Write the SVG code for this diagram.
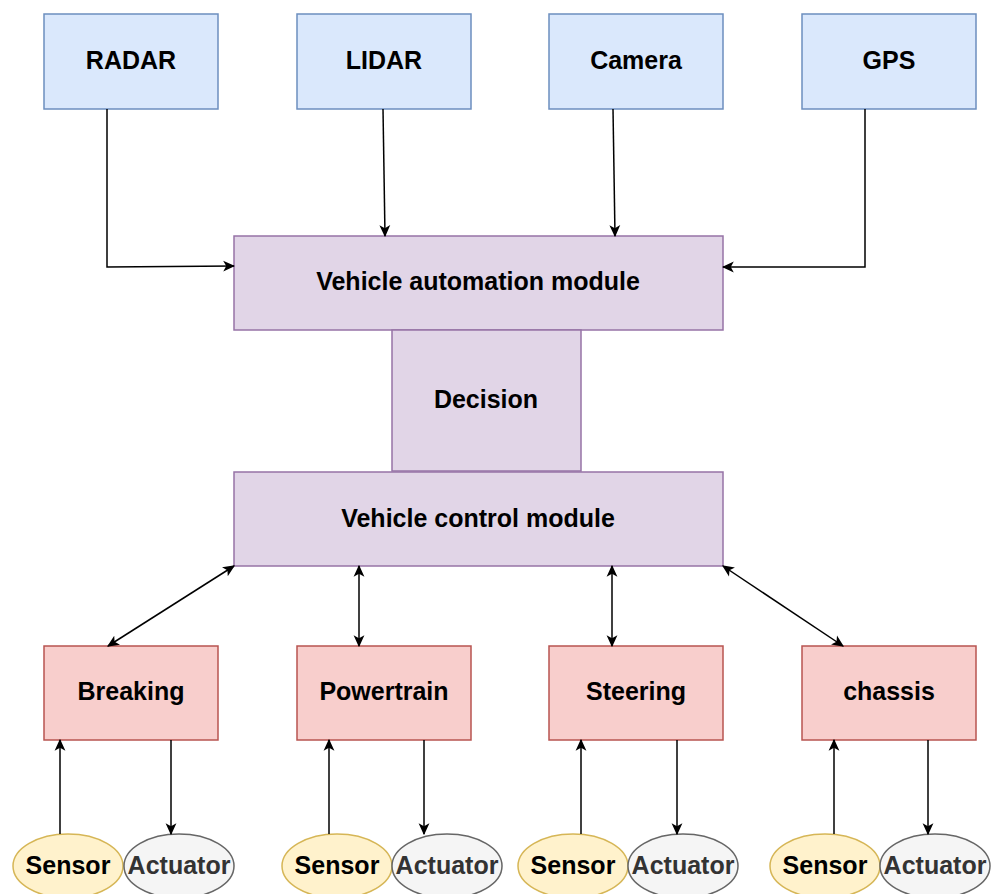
<svg xmlns="http://www.w3.org/2000/svg" width="991" height="894" viewBox="0 0 991 894">
<defs>
<marker id="arr" viewBox="0 0 10 10" refX="9" refY="5" markerWidth="12" markerHeight="12" markerUnits="userSpaceOnUse" orient="auto-start-reverse">
<path d="M0,0.5 L10,5 L0,9.5 L2.5,5 Z" fill="#000"/>
</marker>
<style>
text{font-family:"Liberation Sans",Arial,sans-serif;font-weight:bold;font-size:25px;text-anchor:middle;dominant-baseline:central;fill:#000}
.blue{fill:#dae8fc;stroke:#6c8ebf;stroke-width:1.5}
.purple{fill:#e1d5e7;stroke:#9673a6;stroke-width:1.5}
.red{fill:#f8cecc;stroke:#b85450;stroke-width:1.5}
.yellow{fill:#fff2cc;stroke:#d6b656;stroke-width:1.5}
.gray{fill:#f5f5f5;stroke:#666666;stroke-width:1.5}
.gray-t{fill:#333333}
.edge{fill:none;stroke:#000;stroke-width:1.5}
.one{marker-end:url(#arr)}
.two{marker-start:url(#arr);marker-end:url(#arr)}
</style>
</defs>
<rect width="991" height="894" fill="#fff"/>

<g id="radar"><rect class="blue" x="44" y="14" width="174" height="95"/><text x="131" y="60">RADAR</text></g>
<g id="lidar"><rect class="blue" x="297" y="14" width="174" height="95"/><text x="384" y="60">LIDAR</text></g>
<g id="camera"><rect class="blue" x="549" y="14" width="174" height="95"/><text x="636" y="60">Camera</text></g>
<g id="gps"><rect class="blue" x="802" y="14" width="174" height="95"/><text x="889" y="60">GPS</text></g>

<g id="automation"><rect class="purple" x="234" y="236" width="489" height="94"/><text x="478" y="281">Vehicle automation module</text></g>
<g id="decision"><rect class="purple" x="392" y="330" width="189" height="141"/><text x="486" y="399">Decision</text></g>
<g id="control"><rect class="purple" x="234" y="472" width="489" height="94"/><text x="478" y="518">Vehicle control module</text></g>

<g id="breaking"><rect class="red" x="44" y="646" width="174" height="94"/><text x="131" y="691">Breaking</text></g>
<g id="powertrain"><rect class="red" x="297" y="646" width="174" height="94"/><text x="384" y="691">Powertrain</text></g>
<g id="steering"><rect class="red" x="549" y="646" width="174" height="94"/><text x="636" y="691">Steering</text></g>
<g id="chassis"><rect class="red" x="802" y="646" width="174" height="94"/><text x="889" y="691">chassis</text></g>

<g id="sensor1"><ellipse class="yellow" cx="68" cy="866" rx="55" ry="32"/><text x="68" y="865">Sensor</text></g>
<g id="actuator1"><ellipse class="gray" cx="179" cy="866" rx="55" ry="32"/><text class="gray-t" x="179" y="865">Actuator</text></g>
<g id="sensor2"><ellipse class="yellow" cx="337" cy="866" rx="55" ry="32"/><text x="337" y="865">Sensor</text></g>
<g id="actuator2"><ellipse class="gray" cx="447" cy="866" rx="55" ry="32"/><text class="gray-t" x="447" y="865">Actuator</text></g>
<g id="sensor3"><ellipse class="yellow" cx="573" cy="866" rx="55" ry="32"/><text x="573" y="865">Sensor</text></g>
<g id="actuator3"><ellipse class="gray" cx="683" cy="866" rx="55" ry="32"/><text class="gray-t" x="683" y="865">Actuator</text></g>
<g id="sensor4"><ellipse class="yellow" cx="825" cy="866" rx="55" ry="32"/><text x="825" y="865">Sensor</text></g>
<g id="actuator4"><ellipse class="gray" cx="935" cy="866" rx="55" ry="32"/><text class="gray-t" x="935" y="865">Actuator</text></g>

<g id="connectors">
<path class="edge one" d="M107,109 L107,267 L234,266"/>
<path class="edge one" d="M383,109 L385,236"/>
<path class="edge one" d="M613,109 L615,236"/>
<path class="edge one" d="M865,109 L865,267 L723,267"/>

<path class="edge two" d="M234,566 L108,646"/>
<path class="edge two" d="M359,566 L359,646"/>
<path class="edge two" d="M612,566 L612,646"/>
<path class="edge two" d="M723,566 L843,646"/>

<path class="edge one" d="M60,834 L60,740"/>
<path class="edge one" d="M171,740 L171,834"/>
<path class="edge one" d="M329,834 L329,740"/>
<path class="edge one" d="M424,740 L424,834"/>
<path class="edge one" d="M581,834 L581,740"/>
<path class="edge one" d="M677,740 L677,834"/>
<path class="edge one" d="M834,834 L834,740"/>
<path class="edge one" d="M928,740 L928,834"/>
</g>
</svg>
